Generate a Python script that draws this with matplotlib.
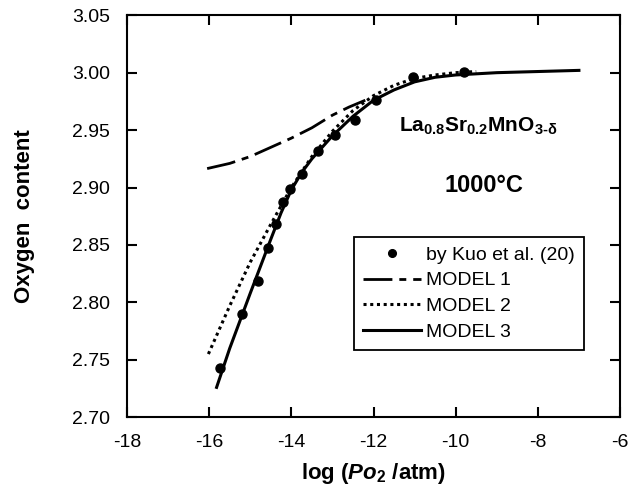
import matplotlib
matplotlib.use("Agg")
import matplotlib.pyplot as plt

plt.rcParams['font.family'] = ['Liberation Sans', 'DejaVu Sans']
plt.rcParams['axes.unicode_minus'] = False
plt.rcParams['mathtext.fontset'] = 'custom'
plt.rcParams['mathtext.rm'] = 'Liberation Sans:bold'
plt.rcParams['mathtext.it'] = 'Liberation Sans:italic:bold'
plt.rcParams['mathtext.bf'] = 'Liberation Sans:bold'

# measured data (Kuo et al.)
kuo_x = [-15.73, -15.20, -14.82, -14.58, -14.37, -14.21, -14.03, -13.75,
         -13.34, -12.94, -12.44, -11.93, -11.05, -9.79]
kuo_y = [2.743, 2.790, 2.819, 2.847, 2.868, 2.887, 2.899, 2.912,
         2.932, 2.946, 2.959, 2.976, 2.996, 3.001]

# model curves
m1_x = [-16.05, -15.5, -15.0, -14.5, -14.0, -13.5, -13.0, -12.6, -12.2]
m1_y = [2.9165, 2.921, 2.927, 2.935, 2.943, 2.952, 2.963, 2.970, 2.976]

m2_x = [-16.02, -15.5, -15.0, -14.5, -14.0, -13.5, -13.0, -12.5, -12.0,
        -11.5, -11.0, -10.5, -10.0, -9.5]
m2_y = [2.755, 2.797, 2.835, 2.868, 2.900, 2.927, 2.949, 2.967, 2.980,
        2.989, 2.995, 2.998, 3.000, 3.001]

m3_x = [-15.82, -15.5, -15.0, -14.5, -14.25, -14.0, -13.75, -13.5, -13.0,
        -12.5, -12.0, -11.5, -11.0, -10.5, -10.0, -9.0, -8.0, -7.0]
m3_y = [2.726, 2.760, 2.808, 2.855, 2.878, 2.898, 2.913, 2.925, 2.945,
        2.962, 2.976, 2.985, 2.992, 2.996, 2.998, 3.000, 3.001, 3.002]

fig = plt.figure(figsize=(6.32, 4.92), dpi=100)
ax = fig.add_axes([0.201, 0.152, 0.780, 0.817])

ax.plot(kuo_x, kuo_y, 'o', color='black', markersize=6.5, label='by Kuo et al. (20)')
ax.plot(m1_x, m1_y, color='black', linewidth=2, dashes=(10.4, 2.5, 2.5, 2.5), label='MODEL 1')
ax.plot(m2_x, m2_y, color='black', linewidth=2.2, linestyle=(0, (1, 1.2)), label='MODEL 2')
ax.plot(m3_x, m3_y, color='black', linewidth=2.2, label='MODEL 3')

ax.set_xlim(-18, -6)
ax.set_ylim(2.70, 3.05)
ax.set_xticks([-18, -16, -14, -12, -10, -8, -6])
ax.set_yticks([2.70, 2.75, 2.80, 2.85, 2.90, 2.95, 3.00, 3.05])
ax.set_yticklabels(['%.2f' % v for v in ax.get_yticks()])
ax.tick_params(direction='in', length=7, width=1.5, top=True, right=True,
               labelsize=14, pad=12)
for s in ax.spines.values():
    s.set_linewidth(1.5)

ax.set_xlabel(r'log ($\mathit{Po}_2$ /atm)', fontsize=16, fontweight='bold')
ax.set_ylabel('Oxygen  content', fontsize=16, fontweight='bold')
ax.xaxis.set_label_coords(0.5, -0.108)
ax.yaxis.set_label_coords(-0.187, 0.5)

ax.text(-9.45, 2.953, r'La$_{0.8}$Sr$_{0.2}$MnO$_{\text{3-δ}}$', fontsize=15,
        fontweight='bold', ha='center', va='center')
ax.text(-9.3, 2.902, '1000°C', fontsize=17, fontweight='bold', ha='center', va='center')

leg = ax.legend(loc='upper left', bbox_to_anchor=(0.4604, 0.4478), borderaxespad=0,
                fontsize=14, frameon=True, fancybox=False, handlelength=3.0,
                handletextpad=0.26, borderpad=0.45, labelspacing=0.42, markerscale=0.85)
leg.get_frame().set_edgecolor('black')
leg.get_frame().set_linewidth(1.3)
leg.get_frame().set_alpha(1)

fig.savefig('out.png', dpi=100)
